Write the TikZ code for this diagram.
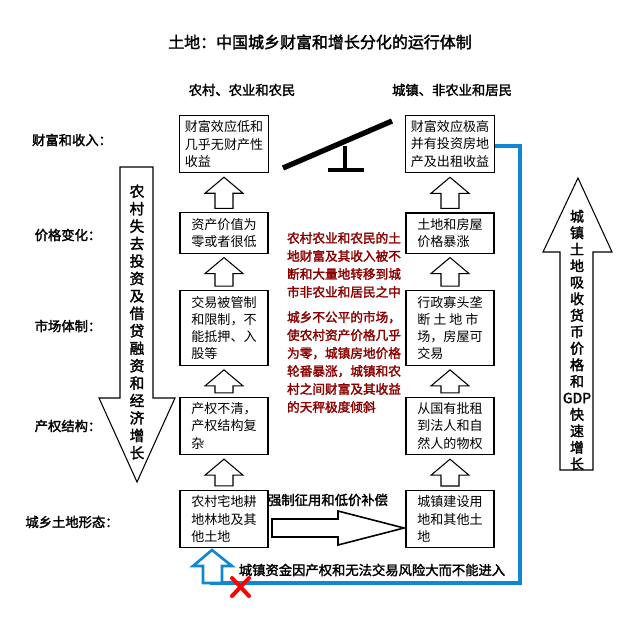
\documentclass[tikz,border=0pt]{standalone}
\usepackage{fontspec}
\setmainfont{Noto Sans CJK SC}
\newfontfamily\cjkb[FakeBold=2]{Noto Sans CJK SC}
\usepackage{tikz}
\usetikzlibrary{calc}
\tikzset{
  box/.style={draw,thick,align=left,font=\fontsize{9.8}{13}\selectfont,inner sep=4pt,minimum width=88*0.0264cm},
  lbl/.style={font=\cjkb\fontsize{10}{12}\selectfont},
  redtxt/.style={font=\cjkb\fontsize{9.5}{13.5}\selectfont,text=red!55!black,align=left}
}
\newcommand{\uparr}[2]{% from lower node #1 to upper node #2
  \draw[thick,fill=white] ($(#2.south)+(0,4)$) -- ++(19,16) -- ++(-10,0) -- ($(#1.north)+(9,-4)$)
    -- ($(#1.north)+(-9,-4)$) -- ($(#2.south)+(-9,20)$) -- ++(-10,0) -- cycle;}
\begin{document}
\begin{tikzpicture}[x=0.0264cm,y=-0.0264cm]
  \useasboundingbox (0,0) rectangle (640,624);
  \node[font=\cjkb\fontsize{12}{14}\selectfont] (title) at (320,42) {土地：中国城乡财富和增长分化的运行体制};
  \node[lbl] (hl) at (242,90) {农村、农业和农民};
  \node[lbl] (hr) at (452,90) {城镇、非农业和居民};
  % row labels
  \node[lbl] (r1) at (72,140) {财富和收入：};
  \node[lbl] (r2) at (68,235) {价格变化：};
  \node[lbl] (r3) at (68,326) {市场体制：};
  \node[lbl] (r4) at (68,426) {产权结构：};
  \node[lbl] (r5) at (72,522) {城乡土地形态：};
  % left column
  \node[box] (l1) at (224,144) {财富效应低和\\几乎无财产性\\收益};
  \node[box] (l2) at (224,233) {资产价值为\\零或者很低};
  \node[box] (l3) at (224,328) {交易被管制\\和限制，不\\能抵押、入\\股等};
  \node[box] (l4) at (224,426) {产权不清，\\产权结构复\\杂};
  \node[box] (l5) at (224,519) {农村宅地耕\\地林地及其\\他土地};
  % right column
  \node[box] (q1) at (450,144) {财富效应极高\\并有投资房地\\产及出租收益};
  \node[box] (q2) at (450,233) {土地和房屋\\价格暴涨};
  \node[box] (q3) at (450,328) {行政寡头垄\\断\ 土\ 地\ 市\\场，房屋可\\交易};
  \node[box] (q4) at (450,426) {从国有批租\\到法人和自\\然人的物权};
  \node[box] (q5) at (450,519) {城镇建设用\\地和其他土\\地};
  % small up arrows
  \uparr{l2}{l1} \uparr{l3}{l2} \uparr{l4}{l3} \uparr{l5}{l4}
  \uparr{q2}{q1} \uparr{q3}{q2} \uparr{q4}{q3} \uparr{q5}{q4}
  % seesaw
  \draw[line width=4pt] (283,168) -- (392,121);
  \draw[line width=3pt] (345,146) -- (345,170) (328,170) -- (364,170);
  % red text
  \node[redtxt] (m1) at (344,265) {农村农业和农民的土\\地财富及其收入被不\\断和大量地转移到城\\市非农业和居民之中};
  \node[redtxt] (m2) at (344,362) {城乡不公平的市场，\\使农村资产价格几乎\\为零，城镇房地价格\\轮番暴涨，城镇和农\\村之间财富及其收益\\的天秤极度倾斜};
  % big down arrow
  \draw[thick,fill=white] (120,167) -- (153,167) -- (153,398) -- (175,398) -- (137,482)
    -- (99,398) -- (120,398) -- cycle;
  \node[font=\cjkb\fontsize{11}{13.1}\selectfont,align=center] (dn) at (137,322) {农\\村\\失\\去\\投\\资\\及\\借\\贷\\融\\资\\和\\经\\济\\增\\长};
  % big up arrow
  \draw[thick,fill=white] (578,178) -- (612,252) -- (593,252) -- (593,470) -- (560,470)
    -- (560,252) -- (543,252) -- cycle;
  \node[font=\cjkb\fontsize{10.5}{12.4}\selectfont,align=center] (up) at (577,340) {城\\镇\\土\\地\\吸\\收\\货\\币\\价\\格\\和\\GDP\\快\\速\\增\\长};
  % big right arrow
  \draw[very thick,fill=white] (272,519) -- (338,519) -- (338,511) -- (404,528)
    -- (338,545) -- (338,537) -- (272,537) -- cycle;
  \node[lbl] (force) at (328,500) {强制征用和低价补偿};
  % blue loop
  \coordinate (b1) at (520,146);
  \coordinate (b2) at (520,583);
  \draw[line width=2.5pt,cyan!70!blue] (q1.east |- b1) -- (b1) -- (b2) -- (210,583);
  \draw[line width=2pt,cyan!70!blue,fill=white] (212,550) -- (232,566) -- (222,566) -- (222,583)
    -- (203,583) -- (203,566) -- (193,566) -- cycle;
  \node[lbl,fill=white,inner sep=1pt] (deny) at (372,570) {城镇资金因产权和无法交易风险大而不能进入};
  \draw[line width=3pt,red,line cap=round] (232,578) -- (249,596) (249,578) -- (232,596);
\end{tikzpicture}
\end{document}
